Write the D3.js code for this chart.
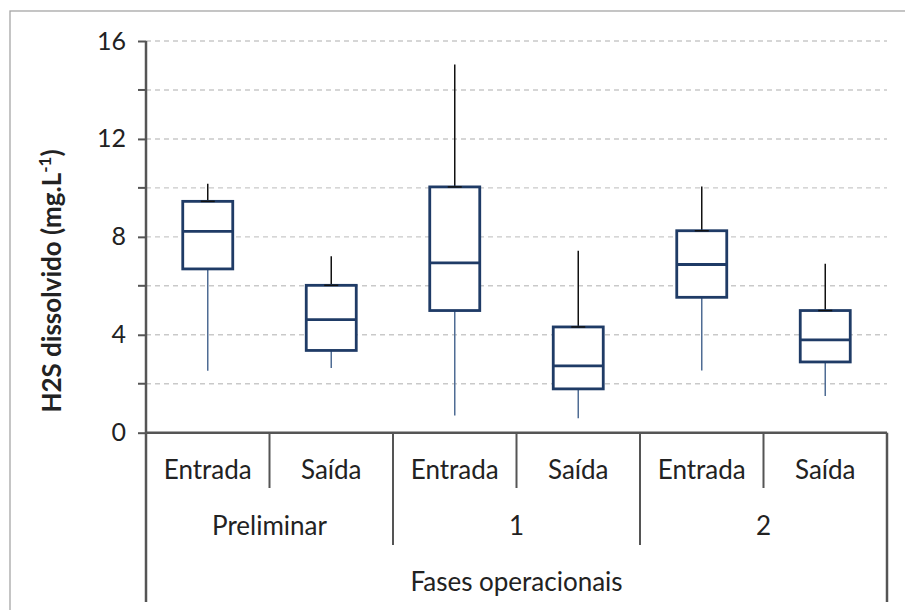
<!DOCTYPE html>
<html>
<head>
<meta charset="utf-8">
<script src="https://cdn.jsdelivr.net/npm/d3@7"></script>
<style>
  html, body { margin: 0; padding: 0; background: #fff; }
  svg { display: block; }
  text { font-family: Lato, "Open Sans", sans-serif; fill: #222; }
</style>
</head>
<body>
<svg id="chart" width="905" height="610"></svg>
<script>
// Dissolved H2S per operational phase, inlet vs outlet
const phases = ["Preliminar", "1", "2"];
const points = ["Entrada", "Saída"];
const boxIds = ["Preliminar|Entrada", "Preliminar|Saída", "1|Entrada", "1|Saída", "2|Entrada", "2|Saída"];
const minimum = [2.53, 2.64, 0.70, 0.59, 2.54, 1.50];
const quartile1 = [6.69, 3.36, 4.99, 1.79, 5.53, 2.89];
const median = [8.22, 4.62, 6.94, 2.73, 6.87, 3.79];
const quartile3 = [9.45, 6.02, 10.04, 4.32, 8.25, 4.99];
const maximum = [10.17, 7.21, 15.04, 7.43, 10.06, 6.90];
const yTicks = [0, 4, 8, 12, 16];
const yMinorTicks = [2, 6, 10, 14];

const svg = d3.select("#chart");

// outer chart frame
svg.append("rect")
  .attr("x", 10).attr("y", 11).attr("width", 920).attr("height", 620)
  .attr("fill", "none").attr("stroke", "#a6a6a6").attr("stroke-width", 1.3);

const plotLeft = 146, plotRight = 887, plotTop = 41, plotBottom = 432.7;

const x = d3.scaleBand().domain(boxIds).range([plotLeft, plotRight]).padding(0);
const y = d3.scaleLinear().domain([0, 16]).range([plotBottom, plotTop]);

// dashed gridlines
const gridTicks = yTicks.concat(yMinorTicks).filter(v => v > 0);
svg.append("g").selectAll("line").data(gridTicks).join("line")
  .attr("x1", plotLeft).attr("x2", plotRight)
  .attr("y1", d => y(d)).attr("y2", d => y(d))
  .attr("stroke", "#c9c9c9").attr("stroke-width", 1.4)
  .attr("stroke-dasharray", "5,4");

// y axis
const yAxis = d3.axisLeft(y).tickValues(yTicks).tickSize(8).tickPadding(12).tickFormat(d3.format("d"));
const gy = svg.append("g").attr("transform", `translate(${plotLeft},0)`).call(yAxis);
gy.select(".domain").remove();
gy.selectAll(".tick line").attr("stroke", "#555").attr("stroke-width", 2);
gy.selectAll(".tick text").style("font-size", "25px").attr("fill", "#222")
  .attr("font-family", "Lato, sans-serif");
svg.append("g").selectAll("line").data(yMinorTicks).join("line")
  .attr("x1", plotLeft - 8).attr("x2", plotLeft)
  .attr("y1", d => y(d)).attr("y2", d => y(d))
  .attr("stroke", "#555").attr("stroke-width", 2);

// y axis title
const yt = svg.append("text")
  .attr("transform", `translate(61,281) rotate(-90)`)
  .attr("text-anchor", "middle")
  .style("font-size", "26px").style("font-weight", "bold");
yt.append("tspan").text("H2S dissolvido (mg.L");
yt.append("tspan").text("-1").attr("dy", -10).style("font-size", "17px");
yt.append("tspan").text(")").attr("dy", 10);

// category axis: baseline, dividers and outer edges
const axisColor = "#555";
const lines = svg.append("g").attr("stroke", axisColor).attr("stroke-width", 2.5);
lines.append("line").attr("x1", plotLeft).attr("x2", plotRight).attr("y1", plotBottom).attr("y2", plotBottom);
lines.append("line").attr("x1", plotLeft).attr("x2", plotLeft).attr("y1", plotTop).attr("y2", 602);
lines.append("line").attr("x1", plotRight).attr("x2", plotRight).attr("y1", plotBottom).attr("y2", 602);
boxIds.forEach((id, i) => {
  if (i === 0) return;
  const xx = x(id);
  const isPhase = i % points.length === 0;
  lines.append("line").attr("x1", xx).attr("x2", xx)
    .attr("y1", plotBottom).attr("y2", isPhase ? 545 : 488)
    .attr("stroke-width", 2);
});

// category labels
svg.append("g").selectAll("text").data(boxIds).join("text")
  .attr("x", d => x(d) + x.bandwidth() / 2)
  .attr("y", 470).attr("dy", "0.35em")
  .attr("text-anchor", "middle").style("font-size", "26px")
  .text(d => d.split("|")[1]);

svg.append("g").selectAll("text").data(phases).join("text")
  .attr("x", p => {
    const ids = boxIds.filter(id => id.startsWith(p + "|"));
    return (x(ids[0]) + x(ids[ids.length - 1]) + x.bandwidth()) / 2;
  })
  .attr("y", 526).attr("dy", "0.35em")
  .attr("text-anchor", "middle").style("font-size", "26px")
  .text(p => p);

svg.append("text")
  .attr("x", (plotLeft + plotRight) / 2).attr("y", 582).attr("dy", "0.35em")
  .attr("text-anchor", "middle").style("font-size", "26px")
  .text("Fases operacionais");

// boxes and whiskers
const boxW = 50;
const boxes = svg.append("g").selectAll("g").data(boxIds).join("g")
  .attr("transform", d => `translate(${x(d) + x.bandwidth() / 2},0)`);

boxes.append("line")
  .attr("x1", 0).attr("x2", 0)
  .attr("y1", (d, i) => y(quartile1[i])).attr("y2", (d, i) => y(minimum[i]))
  .attr("stroke", "#4f6c94").attr("stroke-width", 1.5);

boxes.append("line")
  .attr("x1", 0).attr("x2", 0)
  .attr("y1", (d, i) => y(quartile3[i])).attr("y2", (d, i) => y(maximum[i]))
  .attr("stroke", "#111").attr("stroke-width", 1.5);

boxes.append("rect")
  .attr("x", -boxW / 2).attr("width", boxW)
  .attr("y", (d, i) => y(quartile3[i]))
  .attr("height", (d, i) => y(quartile1[i]) - y(quartile3[i]))
  .attr("fill", "#fff").attr("stroke", "#1f3b66").attr("stroke-width", 2.8);

boxes.append("line")
  .attr("x1", -boxW / 2).attr("x2", boxW / 2)
  .attr("y1", (d, i) => y(median[i])).attr("y2", (d, i) => y(median[i]))
  .attr("stroke", "#1f3b66").attr("stroke-width", 2.8);

// whisker cap sitting on the upper quartile
boxes.append("line")
  .attr("x1", -7).attr("x2", 7)
  .attr("y1", (d, i) => y(quartile3[i])).attr("y2", (d, i) => y(quartile3[i]))
  .attr("stroke", "#111").attr("stroke-width", 1.5);
</script>
</body>
</html>
